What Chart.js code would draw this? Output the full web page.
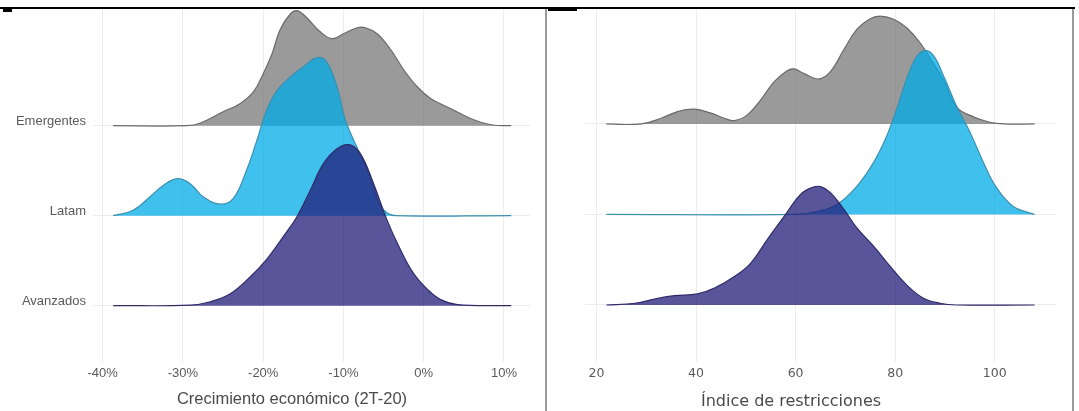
<!DOCTYPE html>
<html><head><meta charset="utf-8">
<script src="https://cdn.jsdelivr.net/npm/chart.js@4"></script>
<style>
html,body{margin:0;padding:0;background:#fff;width:1079px;height:411px;overflow:hidden;position:relative}
canvas{position:absolute;top:0}
.rule{position:absolute;background:#000}
.vb{position:absolute;background:#9a9a9a}
.ttl{position:absolute;white-space:nowrap;transform:translate(-50%,-50%);color:#4a4a4a}
</style></head><body>
<canvas id="c1" width="545" height="411" style="left:0"></canvas>
<canvas id="c2" width="524" height="411" style="left:548px"></canvas>
<div class="rule" style="left:0;top:7px;width:1075px;height:2px"></div>
<div class="rule" style="left:3px;top:8px;width:9px;height:4px"></div>
<div class="rule" style="left:548px;top:8px;width:29px;height:3px"></div>
<div class="vb" style="left:545px;top:9px;width:2px;height:402px"></div>
<div class="vb" style="left:1072px;top:9px;width:2px;height:402px"></div>
<div class="ttl" style="left:292px;top:398px;font:16.5px 'Liberation Sans',Arial,sans-serif">Crecimiento económico (2T-20)</div>
<div class="ttl" style="left:791px;top:400px;font:16px 'DejaVu Sans',sans-serif">Índice de restricciones</div>
<script>
// Ridge categories, top to bottom (baseline index 2,1,0)
const categories = ['Emergentes', 'Latam', 'Avanzados'];

// Tick labels
const growthTicks = [-40, -30, -20, -10, 0, 10];
const restrTicks = [20, 40, 60, 80, 100];

// Left panel: Crecimiento económico (2T-20), % — density heights (ridge units)
const growthEmergX = [-38.7,-29.5,-27.9,-25,-22.9,-21.2,-20,-18.9,-17.9,-16.6,-15.8,-14.7,-12.9,-11.4,-10,-8.3,-7.25,-5.8,-4.1,-2.5,-0.8,0.9,3.4,5.9,8.4,10.9];
const growthEmergH = [0,0,0.027,0.156,0.244,0.378,0.578,0.8,1.067,1.244,1.278,1.211,1.044,0.967,1.022,1.089,1.089,1.022,0.844,0.622,0.433,0.3,0.189,0.078,0.011,0];
const growthLatamX = [-38.7,-36.2,-34.1,-32.5,-30.7,-29.1,-27.5,-25.4,-23.75,-22.1,-20.8,-19.6,-18.3,-16.6,-15,-13.3,-12.1,-10.8,-9.75,-8.3,-7.25,-6.3,-5.5,-4.6,-3.5,10.9];
const growthLatamH = [0,0.061,0.211,0.333,0.411,0.356,0.211,0.128,0.189,0.5,0.833,1.167,1.389,1.544,1.656,1.756,1.711,1.433,1.061,0.756,0.556,0.333,0.133,0.033,0,0];
const growthAvanzX = [-38.7,-29.1,-26.6,-24.1,-21.6,-19.6,-17.5,-15.8,-14.1,-12.5,-10.8,-9.3,-7.9,-6.25,-4.6,-2.9,-1.25,0.5,2.1,4.2,10.9];
const growthAvanzH = [0,0.006,0.044,0.133,0.322,0.511,0.767,0.989,1.289,1.578,1.744,1.789,1.689,1.356,0.956,0.622,0.356,0.178,0.067,0.011,0];

// Right panel: Índice de restricciones — density heights (ridge units)
const restrEmergX = [22,29,33,36.3,39.7,43,45.7,47.7,50.3,53,55.7,58.3,59.7,61.7,64.7,67,69.7,72.3,75,77,79.7,82.3,85,87.7,89.7,92.3,95.7,99,102,108];
const restrEmergH = [0,0,0.063,0.137,0.163,0.119,0.063,0.037,0.1,0.267,0.467,0.589,0.608,0.556,0.497,0.578,0.822,1.044,1.163,1.192,1.156,1.063,0.897,0.667,0.489,0.189,0.078,0.019,0,0];
const restrLatamX = [22,60,64.3,68.3,72.3,75.7,78.3,80.3,82.3,84.3,86,87.7,89.7,92.3,95,97.7,100.3,103.7,107,108];
const restrLatamH = [0,0,0.033,0.111,0.311,0.578,0.867,1.167,1.5,1.744,1.811,1.756,1.533,1.2,0.911,0.578,0.3,0.089,0.017,0];
const restrAvanzX = [22,27.7,32.3,35.7,40.3,43.7,47.7,51,54.3,57.7,61,63.3,65,67,69.7,72.3,75.7,79,82.3,85.7,89,92.3,108];
const restrAvanzH = [0,0.019,0.074,0.103,0.122,0.186,0.314,0.463,0.722,0.978,1.222,1.297,1.308,1.241,1.056,0.852,0.648,0.426,0.222,0.074,0.019,0,0];

const fills = ['rgba(120,120,120,0.75)', 'rgba(0,172,231,0.75)', 'rgba(32,28,121,0.75)'];
const lines = ['#6a6a6a', '#3d8fae', '#2e2b68'];

function ridge(xs, hs, idx) {
  const base = categories.length - 1 - idx;
  return {
    label: categories[idx],
    data: xs.map((x, i) => ({x: x, y: base + hs[i]})),
    fill: {value: base},
    backgroundColor: fills[idx],
    borderColor: lines[idx],
    borderWidth: 1.2,
    pointRadius: 0,
    tension: 0.4,
    order: idx === 0 ? 3 : (idx === 1 ? 2 : 1)
  };
}

function noPad(s) { s.paddingTop = 0; s.paddingBottom = 0; s.paddingLeft = 0; s.paddingRight = 0; }

function opts(cfg) {
  return {
    responsive: false,
    animation: false,
    events: [],
    layout: {padding: {left: 0, right: cfg.padRight, top: 9, bottom: 0}},
    plugins: {legend: {display: false}, tooltip: {enabled: false}},
    scales: {
      x: {
        type: 'linear', min: cfg.xmin, max: cfg.xmax,
        border: {display: false},
        grid: {color: '#ececec', lineWidth: 1, drawTicks: false},
        afterBuildTicks: s => { s.ticks = cfg.ticks.map(v => ({value: v})); },
        ticks: {callback: cfg.fmt, font: cfg.tickFont, color: '#5a5a5a', padding: 4, maxRotation: 0, autoSkip: false},
        afterFit: s => { s.height = 49; noPad(s); }
      },
      y: {
        type: 'linear', min: cfg.ymin, max: cfg.ymax,
        border: {display: false},
        grid: {color: '#ececec', lineWidth: 1, drawTicks: false},
        afterBuildTicks: s => { s.ticks = categories.map((c, i) => ({value: categories.length - 1 - i})).reverse(); },
        ticks: {display: cfg.showY, callback: v => categories[categories.length - 1 - v],
                font: {family: "'Liberation Sans', Arial, sans-serif", size: 13}, color: '#5a5a5a', padding: 7, labelOffset: -4, autoSkip: false},
        afterFit: s => { s.width = cfg.yWidth; noPad(s); }
      }
    }
  };
}

new Chart(document.getElementById('c1'), {
  type: 'line',
  data: {datasets: [
    ridge(growthEmergX, growthEmergH, 0),
    ridge(growthLatamX, growthLatamH, 1),
    ridge(growthAvanzX, growthAvanzH, 2)
  ]},
  options: opts({xmin: -41.21, xmax: 13.24, ymin: -0.626, ymax: 3.297, ticks: growthTicks,
    fmt: v => v + '%', tickFont: {family: "'Liberation Sans', Arial, sans-serif", size: 13},
    showY: true, yWidth: 93, padRight: 15})
});

new Chart(document.getElementById('c2'), {
  type: 'line',
  data: {datasets: [
    ridge(restrEmergX, restrEmergH, 0),
    ridge(restrLatamX, restrLatamH, 1),
    ridge(restrAvanzX, restrAvanzH, 2)
  ]},
  options: opts({xmin: 17.6, xmax: 112.4, ymin: -0.63, ymax: 3.27, ticks: restrTicks,
    fmt: v => String(v), tickFont: {family: "'DejaVu Sans', sans-serif", size: 12.5},
    showY: false, yWidth: 36.5, padRight: 15.5})
});
</script>
</body></html>
